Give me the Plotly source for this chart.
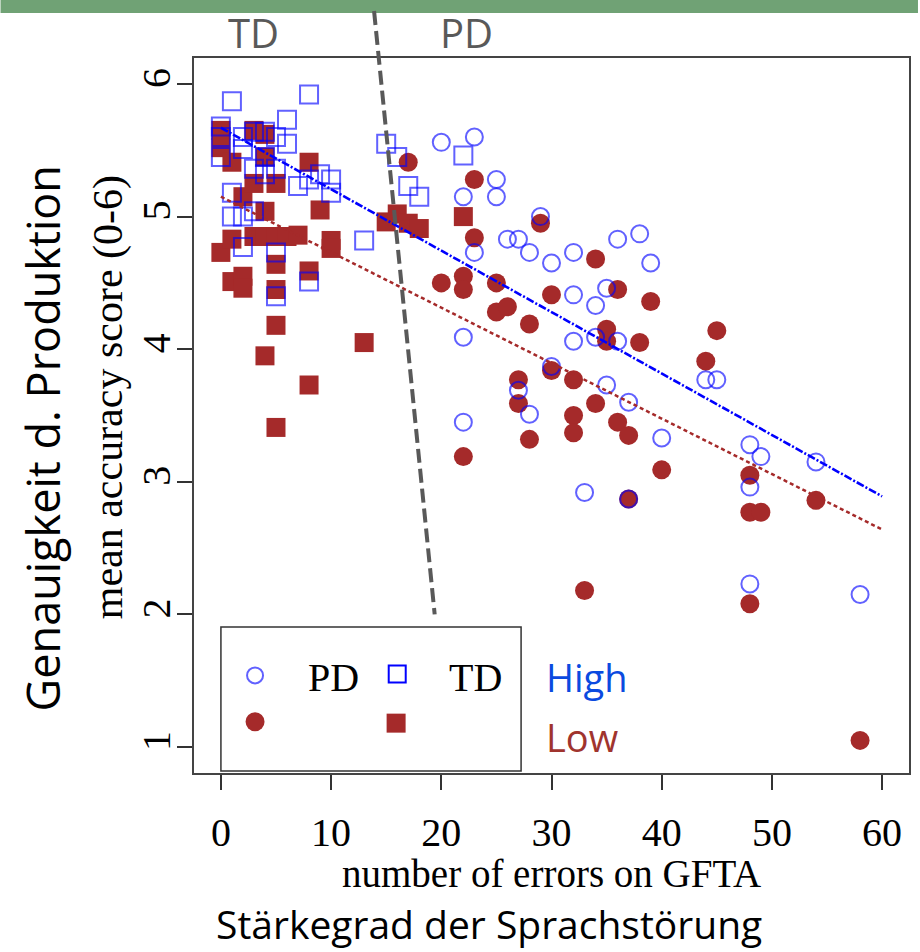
import plotly.graph_objects as go

# ---- data: number of GFTA errors vs. mean accuracy score ----
pd_high_x = [20, 23, 25, 22, 25, 29, 26, 27, 23, 28, 30, 32, 36, 38, 39, 32, 34, 35,
             22, 32, 34, 36, 30, 27, 28, 22, 35, 37, 40, 33, 37, 44, 45, 48, 49, 54,
             48, 48, 58]
pd_high_y = [5.56, 5.60, 5.28, 5.15, 5.15, 5.00, 4.83, 4.83, 4.73, 4.73, 4.65, 4.73,
             4.83, 4.87, 4.65, 4.41, 4.33, 4.46, 4.09, 4.06, 4.09, 4.06, 3.87, 3.69,
             3.51, 3.45, 3.73, 3.60, 3.33, 2.92, 2.87, 3.77, 3.77, 3.28, 3.19, 3.15,
             2.96, 2.23, 2.15]

pd_low_x = [17, 23, 29, 23, 34, 20, 22, 22, 25, 30, 36, 39, 25, 26, 28, 35, 35, 38,
            45, 44, 27, 27, 30, 32, 34, 32, 32, 36, 37, 28, 22, 40, 37, 48, 48, 49,
            54, 33, 48, 58]
pd_low_y = [5.41, 5.28, 4.95, 4.84, 4.68, 4.50, 4.55, 4.45, 4.50, 4.41, 4.45, 4.36,
            4.28, 4.32, 4.19, 4.15, 4.06, 4.05, 4.14, 3.91, 3.77, 3.59, 3.84, 3.77,
            3.59, 3.50, 3.37, 3.45, 3.35, 3.32, 3.19, 3.09, 2.87, 3.05, 2.77, 2.77,
            2.86, 2.18, 2.08, 1.05]

td_high_x = [1, 8, 6, 0, 0, 0, 2, 2, 3, 4, 5, 6, 4, 4, 5, 3, 7, 8, 9, 10, 10, 1, 1,
             2, 3, 2, 5, 13, 15, 16, 17, 18, 5, 8, 22]
td_high_y = [5.87, 5.92, 5.73, 5.68, 5.60, 5.45, 5.60, 5.51, 5.64, 5.64, 5.60, 5.55,
             5.45, 5.32, 5.36, 5.36, 5.23, 5.28, 5.32, 5.28, 5.18, 5.18, 5.00, 5.00,
             5.04, 4.77, 4.73, 4.82, 5.55, 5.45, 5.23, 5.15, 4.40, 4.51, 5.46]

td_low_x = [0, 0, 1, 3, 4, 5, 8, 2, 3, 4, 9, 0, 1, 3, 4, 5, 6, 7, 10, 8, 5, 1, 2, 2,
            5, 5, 4, 13, 8, 5, 15, 16, 17, 18, 22, 10, 4]
td_low_y = [5.65, 5.52, 5.41, 5.65, 5.45, 5.25, 5.41, 5.15, 5.25, 5.04, 5.05, 4.73,
            4.83, 4.85, 4.85, 4.85, 4.85, 4.86, 4.82, 4.59, 4.64, 4.51, 4.55, 4.46,
            4.45, 4.18, 3.95, 4.05, 3.73, 3.41, 4.96, 5.02, 4.95, 4.91, 5.00, 4.76,
            5.62]

# fitted regression lines (endpoints at x = 0 and x = 60)
fit_x = [0, 60]
fit_high_y = [5.67, 2.89]
fit_low_y = [5.15, 2.64]

# TD / PD boundary (data units)
divider_x = [13.9, 19.4]
divider_y = [6.55, 2.0]

x_ticks = [0, 10, 20, 30, 40, 50, 60]
y_ticks = [1, 2, 3, 4, 5, 6]

# ---- styling ----
BLUE = "rgba(0,0,255,0.62)"
BROWN = "#A52A2A"
SERIF = "Liberation Serif, Times New Roman, serif"
SANS = "Open Sans, Lato, sans-serif"

W, H = 920, 952
PL, PR, PT, PB = 194, 911, 58, 773
XR = [-2.44, 62.44]
YR = [0.804, 6.196]


def px(xpix):
    return (xpix - PL) / (PR - PL)


def py(ypix):
    return (PB - ypix) / (PB - PT)


def dx(x):
    return (x - XR[0]) / (XR[1] - XR[0])


def dy(y):
    return (y - YR[0]) / (YR[1] - YR[0])


fig = go.Figure()

fig.add_trace(go.Scatter(x=td_low_x, y=td_low_y, mode="markers",
                         marker=dict(symbol="square", size=19, color=BROWN,
                                     line=dict(width=0))))
fig.add_trace(go.Scatter(x=pd_low_x, y=pd_low_y, mode="markers",
                         marker=dict(symbol="circle", size=19, color=BROWN,
                                     line=dict(width=0))))
fig.add_trace(go.Scatter(x=td_high_x, y=td_high_y, mode="markers",
                         marker=dict(symbol="square-open", size=18, color=BLUE,
                                     line=dict(width=2, color=BLUE))))
fig.add_trace(go.Scatter(x=pd_high_x, y=pd_high_y, mode="markers",
                         marker=dict(symbol="circle-open", size=17, color=BLUE,
                                     line=dict(width=2, color=BLUE))))

fig.add_trace(go.Scatter(x=fit_x, y=fit_low_y, mode="lines",
                         line=dict(color=BROWN, width=2.5, dash="4px,3px")))
fig.add_trace(go.Scatter(x=fit_x, y=fit_high_y, mode="lines",
                         line=dict(color="#0000ff", width=2.6, dash="8px,2px,2px,2px")))

# legend: framed box with the four symbols
fig.add_shape(type="rect", xref="paper", yref="paper",
              x0=px(221), x1=px(522), y0=py(771), y1=py(627),
              line=dict(color="#333333", width=1.5), fillcolor="rgba(0,0,0,0)",
              layer="below")
fig.add_trace(go.Scatter(x=[3.1], y=[1.54], mode="markers", cliponaxis=False,
                         marker=dict(symbol="circle-open", size=16, color=BLUE,
                                     line=dict(width=2, color=BLUE))))
fig.add_trace(go.Scatter(x=[16.0], y=[1.55], mode="markers", cliponaxis=False,
                         marker=dict(symbol="square-open", size=17, color="#0000ff",
                                     line=dict(width=2, color="#0000ff"))))
fig.add_trace(go.Scatter(x=[3.1], y=[1.19], mode="markers", cliponaxis=False,
                         marker=dict(symbol="circle", size=19, color=BROWN)))
fig.add_trace(go.Scatter(x=[15.9], y=[1.18], mode="markers", cliponaxis=False,
                         marker=dict(symbol="square", size=19, color=BROWN)))

annotations = [
    dict(text="PD", x=px(334), y=py(677), font=dict(family=SERIF, size=40, color="black")),
    dict(text="TD", x=px(476), y=py(677), font=dict(family=SERIF, size=40, color="black")),
    dict(text="High", x=px(545), y=py(677), xanchor="left",
         font=dict(family=SANS, size=38, color="#0b4ae0")),
    dict(text="Low", x=px(545), y=py(737), xanchor="left",
         font=dict(family=SANS, size=38, color="#a0342e")),
    dict(text="TD", x=px(254), y=py(33), font=dict(family=SANS, size=40, color="#595959")),
    dict(text="PD", x=px(467), y=py(33), font=dict(family=SANS, size=40, color="#595959")),
    dict(text="number of errors on GFTA", x=px(553), y=py(873),
         font=dict(family=SERIF, size=39, color="black")),
    dict(text="Stärkegrad der Sprachstörung", x=px(490), y=py(923),
         font=dict(family=SANS, size=39, color="black")),
    dict(text="mean accuracy score (0-6)", x=px(108), y=py(397), textangle=-90,
         font=dict(family=SERIF, size=42, color="black")),
    dict(text="Genauigkeit d. Produktion", x=px(42), y=py(438), textangle=-90,
         font=dict(family=SANS, size=45, color="black")),
]
for a in annotations:
    a.setdefault("xanchor", "center")
    a.update(xref="paper", yref="paper", yanchor="middle", showarrow=False)

shapes = [
    # green band across the top of the page
    dict(type="rect", xref="paper", yref="paper", x0=px(0), x1=px(W), y0=py(13), y1=py(0),
         line=dict(width=0), fillcolor="#70a275", layer="above"),
    # TD / PD divider
    dict(type="line", xref="paper", yref="paper",
         x0=dx(divider_x[0]), y0=dy(divider_y[0]), x1=dx(divider_x[1]), y1=dy(divider_y[1]),
         line=dict(color="#595959", width=4, dash="14px,6px"), layer="above"),
]

fig.update_layout(
    width=W, height=H,
    margin=dict(l=PL, r=W - PR, t=PT, b=H - PB, pad=0),
    paper_bgcolor="white", plot_bgcolor="white",
    showlegend=False,
    annotations=annotations,
)
for s in shapes:
    fig.add_shape(**s)

axis_common = dict(showgrid=False, zeroline=False, showline=True, mirror=True,
                   linecolor="#444444", linewidth=2, ticks="outside", ticklen=15,
                   tickwidth=1.5, tickcolor="#333333",
                   tickfont=dict(family=SERIF, size=40, color="black"))
fig.update_xaxes(range=XR, tickvals=x_ticks, ticktext=[str(v) for v in x_ticks],
                 ticklabelstandoff=8, **axis_common)
fig.update_yaxes(range=YR, tickvals=y_ticks, ticktext=[str(v) for v in y_ticks],
                 tickangle=-90, ticklabelstandoff=-9, **axis_common)

fig.write_html("out.html")
